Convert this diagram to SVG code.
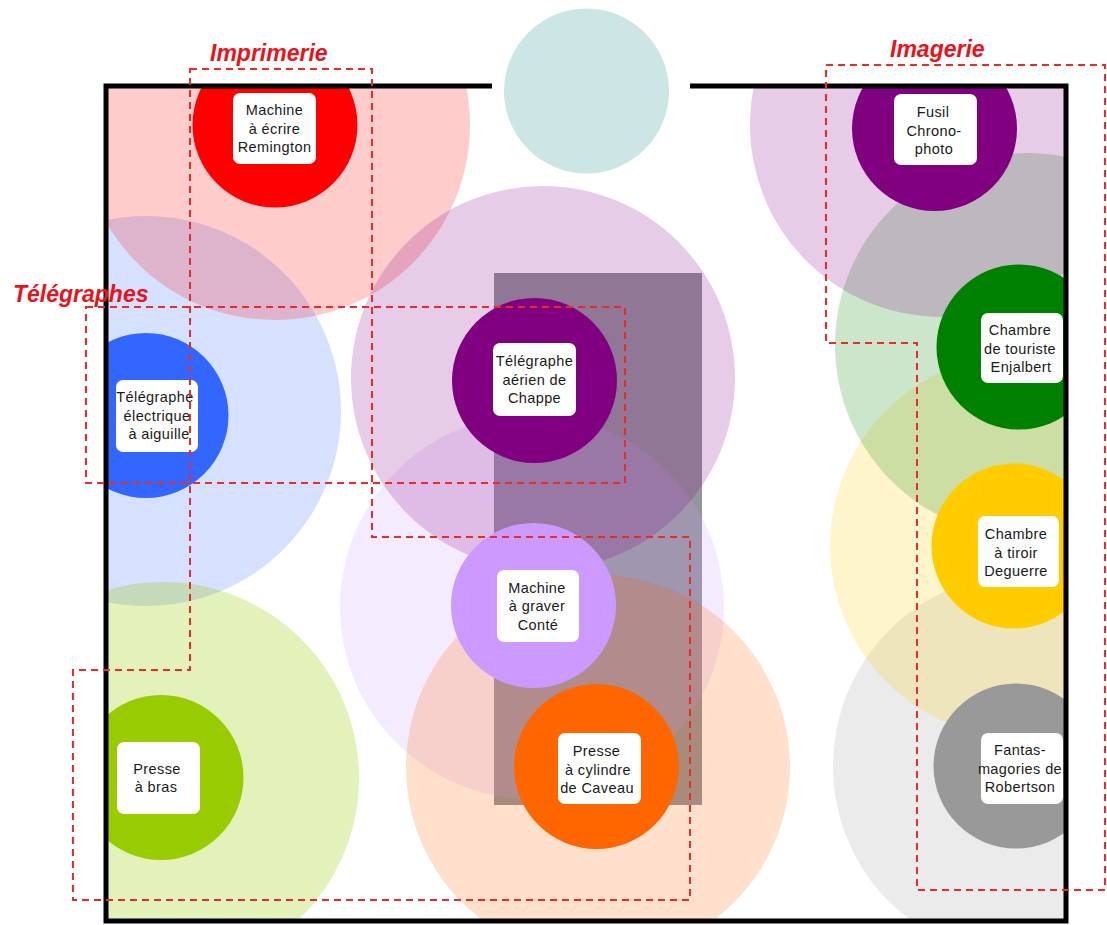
<svg xmlns="http://www.w3.org/2000/svg" width="1107" height="925" viewBox="0 0 1107 925">
<style>
.halo{opacity:0.2}
.box{fill:#ffffff}
.lbl{font-family:"Liberation Sans",Arial,sans-serif;font-size:14.5px;letter-spacing:0.4px;fill:#1a1a1a;text-anchor:middle}
.title{font-family:"Liberation Sans",Arial,sans-serif;font-size:23px;font-weight:bold;font-style:italic;fill:#e8131b}
.grp{fill:none;stroke:#ec2a2a;stroke-width:2;stroke-dasharray:7 5}
.frame{fill:none;stroke:#000;stroke-width:5}
</style>
<defs>
<clipPath id="frameClip"><rect x="106" y="86" width="960" height="835"/></clipPath>
</defs>
<rect width="1107" height="925" fill="#ffffff"/>
<circle cx="586.5" cy="91" r="82.5" fill="#cce5e5"/>
<rect x="494" y="273" width="208" height="532" fill="#94959c"/>
<g id="halos" clip-path="url(#frameClip)">
<circle class="halo" cx="146" cy="411" r="195" fill="#3366ff"/>
<circle class="halo" cx="275" cy="125" r="195" fill="#ff0000"/>
<circle class="halo" cx="163" cy="778" r="196" fill="#99cc00" style="opacity:0.27"/>
<circle class="halo" cx="532" cy="607" r="192" fill="#cc99ff"/>
<circle class="halo" cx="598" cy="767" r="192" fill="#ff6600"/>
<circle class="halo" cx="543" cy="378" r="192" fill="#800080"/>
<circle class="halo" cx="1025" cy="766" r="192" fill="#999999"/>
<circle class="halo" cx="1022" cy="546" r="192" fill="#ffcc00"/>
<circle class="halo" cx="1027" cy="345" r="192" fill="#008000"/>
<circle class="halo" cx="942" cy="125" r="192" fill="#800080"/>
</g>
<g clip-path="url(#frameClip)">
<g id="node-remington">
<circle cx="275" cy="125" r="82.5" fill="#ff0000"/>
<rect class="box" x="233" y="93" width="83" height="71" rx="7"/>
<text class="lbl" x="274.5"><tspan x="274.5" y="115">Machine</tspan><tspan x="274.5" y="133.5">à écrire</tspan><tspan x="274.5" y="152">Remington</tspan></text>
</g>
<g id="node-telegraphe-electrique">
<circle cx="146" cy="415.5" r="82.5" fill="#3366ff"/>
<rect class="box" x="116" y="380" width="82" height="72" rx="7"/>
<text class="lbl"><tspan x="155" y="402">Télégraphe</tspan><tspan x="157" y="420.5">électrique</tspan><tspan x="159" y="439">à aiguille</tspan></text>
</g>
<g id="node-presse-bras">
<circle cx="161" cy="777.5" r="82.5" fill="#99cc00"/>
<rect class="box" x="117" y="742" width="83" height="72" rx="7"/>
<text class="lbl"><tspan x="157" y="774">Presse</tspan><tspan x="156" y="792">à bras</tspan></text>
</g>
<g id="node-chappe">
<circle cx="534.5" cy="380.5" r="82.5" fill="#800080"/>
<rect class="box" x="493" y="343" width="83" height="73" rx="7"/>
<text class="lbl"><tspan x="534.5" y="366">Télégraphe</tspan><tspan x="534.5" y="384.5">aérien de</tspan><tspan x="534.5" y="403">Chappe</tspan></text>
</g>
<g id="node-conte">
<circle cx="533.5" cy="605.5" r="82.5" fill="#cc99ff"/>
<rect class="box" x="497" y="570" width="82" height="72" rx="7"/>
<text class="lbl"><tspan x="537" y="592.5">Machine</tspan><tspan x="537" y="611">à graver</tspan><tspan x="538" y="629.5">Conté</tspan></text>
</g>
<g id="node-caveau">
<circle cx="596.5" cy="766.5" r="82.5" fill="#ff6600"/>
<rect class="box" x="558" y="733" width="83" height="71" rx="7"/>
<text class="lbl"><tspan x="596.5" y="756">Presse</tspan><tspan x="598" y="774.5">à cylindre</tspan><tspan x="597" y="793">de Caveau</tspan></text>
</g>
<g id="node-fusil">
<circle cx="934.5" cy="128.5" r="82.5" fill="#800080"/>
<rect class="box" x="894" y="94" width="83" height="71" rx="7"/>
<text class="lbl"><tspan x="933" y="117">Fusil</tspan><tspan x="934" y="135.5">Chrono-</tspan><tspan x="934" y="154">photo</tspan></text>
</g>
<g id="node-enjalbert">
<circle cx="1019" cy="347" r="82.5" fill="#008000"/>
<rect class="box" x="981" y="313" width="82" height="70" rx="7"/>
<text class="lbl"><tspan x="1020" y="335">Chambre</tspan><tspan x="1020" y="353.5">de touriste</tspan><tspan x="1021" y="372">Enjalbert</tspan></text>
</g>
<g id="node-deguerre">
<circle cx="1014" cy="546" r="82.5" fill="#ffcc00"/>
<rect class="box" x="978" y="516" width="81" height="71" rx="7"/>
<text class="lbl"><tspan x="1016" y="539">Chambre</tspan><tspan x="1016" y="557.5">à tiroir</tspan><tspan x="1016" y="576">Deguerre</tspan></text>
</g>
<g id="node-robertson">
<circle cx="1016" cy="766" r="82.5" fill="#999999"/>
<rect class="box" x="981" y="733" width="82" height="71" rx="7"/>
<text class="lbl"><tspan x="1020" y="755">Fantas-</tspan><tspan x="1020" y="773.5">magories de</tspan><tspan x="1020" y="792">Robertson</tspan></text>
</g>
</g>
<g id="frame">
<path class="frame" d="M492 86 H106 V921 H1066 V86 H690"/>
</g>
<g id="connectors">
<path id="grp-imprimerie" class="grp" d="M190 69 H372 V537 H690 V900 H73 V670 H190 Z"/>
<rect id="grp-telegraphes" class="grp" x="86" y="307" width="539" height="176"/>
<path id="grp-imagerie" class="grp" d="M826 65 H1105 V890 H917 V343 H826 Z"/>
</g>
<g id="titles">
<text class="title" x="210" y="61">Imprimerie</text>
<text class="title" x="890" y="57">Imagerie</text>
<text class="title" x="13" y="302">Télégraphes</text>
</g>
</svg>
